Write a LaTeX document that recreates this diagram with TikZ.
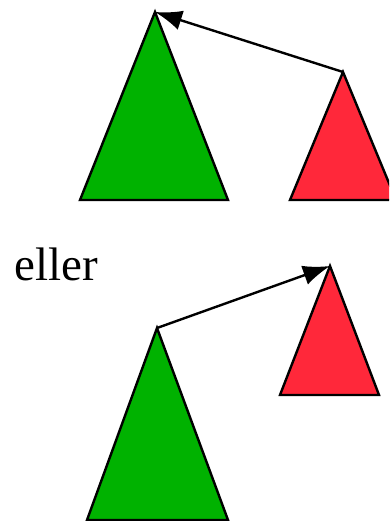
\documentclass[tikz,border=0pt]{standalone}
\usepackage{fontspec}
\setmainfont{Liberation Serif}
\usetikzlibrary{arrows.meta}
\definecolor{TGreen}{RGB}{0,178,0}
\definecolor{TRed}{RGB}{255,40,58}
\tikzset{
	tree/.style={line width=2.4pt, draw=black, line join=miter},
	gtree/.style={tree, fill=TGreen},
	rtree/.style={tree, fill=TRed},
	link/.style={line width=2.4pt, draw=black, -{Latex[length=27pt, width=20pt]}},
	word/.style={font=\fontsize{47}{54}\selectfont, inner sep=0pt, anchor=base west}
}
\begin{document}
\begin{tikzpicture}[x=1pt, y=-1pt]
		\useasboundingbox (0,0) rectangle (389,521);
		\begin{scope}
		\clip (0,0) rectangle (389,521);
		% first case
		\coordinate (g1) at (155,12);
		\coordinate (r1) at (343,72);
		\draw[gtree] (g1) -- (228,200) -- (80,200) -- cycle;
		\draw[rtree] (r1) -- (396,200) -- (290,200) -- cycle;
		\draw[link] (r1) -- (g1);
		% second case
		\node[word] (or) at (14,280) {eller};
		\coordinate (g2) at (157,328);
		\coordinate (r2) at (330,266);
		\draw[gtree] (g2) -- (228,520) -- (87,520) -- cycle;
		\draw[rtree] (r2) -- (379,395) -- (280,395) -- cycle;
		\draw[link] (g2) -- (r2);
		\end{scope}
	\end{tikzpicture}
\end{document}
